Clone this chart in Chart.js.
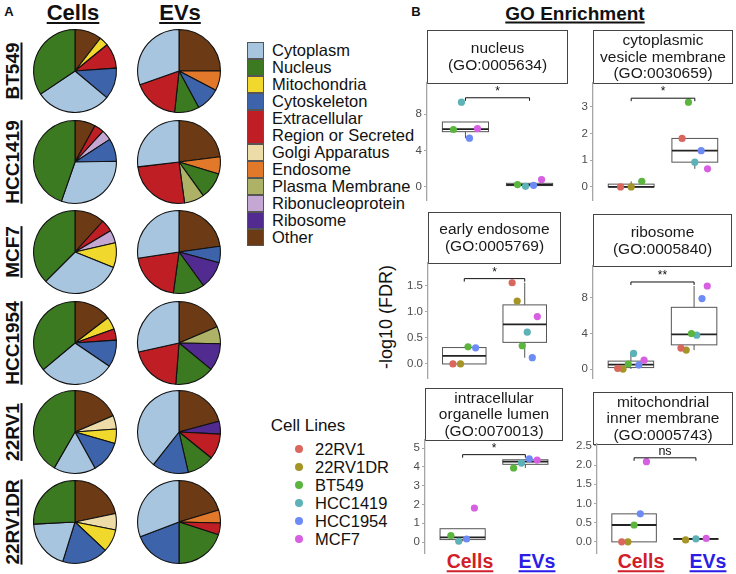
<!DOCTYPE html>
<html>
<head>
<meta charset="utf-8">
<script src="https://cdn.jsdelivr.net/npm/chart.js@4.4.0/dist/chart.umd.min.js"></script>
<style>
  body { margin: 0; background: #fff; font-family: "Liberation Sans", Arial, sans-serif; color: #111; }
  #wrap { position: relative; width: 736px; height: 574px; overflow: hidden; }
  canvas { position: absolute; }
  .txt { position: absolute; white-space: nowrap; transform: translate(-50%, -50%); line-height: 1; }
  .hd { font-weight: bold; text-decoration: underline; text-decoration-thickness: 2px; text-underline-offset: 2px; }
  .rowlab { position: absolute; white-space: nowrap; font-weight: bold; font-size: 19px; line-height: 1;
            text-decoration: underline; text-decoration-thickness: 2px; text-underline-offset: 2px;
            transform: translate(-50%, -50%) rotate(-90deg); }
  #legend { position: absolute; left: 247px; top: 42px; font-size: 16.5px; line-height: 17px; }
  .item { position: relative; padding-left: 25px; }
  .item .sw { position: absolute; left: 0; top: 0; width: 15px; border: 1px solid #555; box-sizing: content-box; }
  #cellLegend { position: absolute; left: 292px; top: 440px; font-size: 16.5px; line-height: 18px; }
  .cl { position: relative; padding-left: 23px; }
  .cl .dot { position: absolute; left: 3px; top: 5px; width: 8px; height: 8px; border-radius: 50%; }
</style>
</head>
<body>
<div id="wrap">
  <div class="txt" style="left:9px;top:11px;font-weight:bold;font-size:13px;">A</div>
  <div class="txt hd" style="left:73px;top:13px;font-size:22px;">Cells</div>
  <div class="txt hd" style="left:180px;top:13px;font-size:22px;">EVs</div>
  <div class="txt" style="left:416px;top:11px;font-weight:bold;font-size:13px;">B</div>
  <div class="txt hd" style="left:575px;top:13px;font-size:19px;">GO Enrichment</div>
  <div class="rowlab" style="top:317px;font-weight:normal;font-size:18px;text-decoration:none;left:386px;">-log10 (FDR)</div>
  <div class="txt" style="left:308px;top:425px;font-size:17px;">Cell Lines</div>
  <div id="legend"></div>
  <div id="cellLegend"></div>
  <div class="txt hd" style="left:470px;top:562px;font-size:19.5px;color:#d01f2a;">Cells</div>
  <div class="txt hd" style="left:537px;top:562px;font-size:19.5px;color:#2b1de6;">EVs</div>
  <div class="txt hd" style="left:641px;top:562px;font-size:19.5px;color:#d01f2a;">Cells</div>
  <div class="txt hd" style="left:708px;top:562px;font-size:19.5px;color:#2b1de6;">EVs</div>
</div>
<script>
const compartments = ['Cytoplasm', 'Nucleus', 'Mitochondria', 'Cytoskeleton', 'Extracellular Region or Secreted',
  'Golgi Apparatus', 'Endosome', 'Plasma Membrane', 'Ribonucleoprotein', 'Ribosome', 'Other'];
const compartmentColors = ['#a8c5e0', '#3c7a22', '#f0d92c', '#3d64ab', '#be1e24',
  '#eddca8', '#e2782a', '#adb266', '#c4a7d3', '#512b90', '#6c3a15'];

const cellLines = ['22RV1', '22RV1DR', 'BT549', 'HCC1419', 'HCC1954', 'MCF7'];
const cellLineColors = ['#d9675d', '#a59426', '#5bb53f', '#5cb2b7', '#6d8bf5', '#d75fe1'];
const rowNames = ['BT549', 'HCC1419', 'MCF7', 'HCC1954', '22RV1', '22RV1DR'];

// pie slices (% of proteins), clockwise from 12 o'clock
const bt549Cells = [['Other', 10.5], ['Mitochondria', 3.6], ['Extracellular Region or Secreted', 9.8], ['Cytoskeleton', 12.2], ['Cytoplasm', 29.5], ['Nucleus', 34.4]];
const bt549Evs = [['Other', 25], ['Endosome', 7.7], ['Cytoskeleton', 9.4], ['Nucleus', 9.6], ['Extracellular Region or Secreted', 17.9], ['Cytoplasm', 30.4]];
const hcc1419Cells = [['Other', 8], ['Extracellular Region or Secreted', 3.8], ['Ribonucleoprotein', 4], ['Cytoskeleton', 8.9], ['Cytoplasm', 30.6], ['Nucleus', 44.7]];
const hcc1419Evs = [['Other', 23], ['Endosome', 6.7], ['Nucleus', 10.4], ['Plasma Membrane', 7.8], ['Extracellular Region or Secreted', 25.3], ['Cytoplasm', 26.9]];
const mcf7Cells = [['Other', 11.7], ['Extracellular Region or Secreted', 4.7], ['Ribonucleoprotein', 5], ['Mitochondria', 9.7], ['Cytoplasm', 31.4], ['Nucleus', 37.5]];
const mcf7Evs = [['Other', 22.8], ['Cytoskeleton', 6.4], ['Ribosome', 10.8], ['Nucleus', 12.2], ['Extracellular Region or Secreted', 20.4], ['Cytoplasm', 27.4]];
const hcc1954Cells = [['Other', 14.6], ['Mitochondria', 4.9], ['Extracellular Region or Secreted', 4.4], ['Cytoskeleton', 10.6], ['Cytoplasm', 29.4], ['Nucleus', 36.1]];
const hcc1954Evs = [['Other', 18.6], ['Plasma Membrane', 6.7], ['Ribosome', 10.7], ['Nucleus', 15.3], ['Extracellular Region or Secreted', 20.3], ['Cytoplasm', 28.5]];
const rv1Cells = [['Other', 18.6], ['Golgi Apparatus', 5.3], ['Mitochondria', 5.6], ['Cytoskeleton', 12.5], ['Cytoplasm', 16.4], ['Nucleus', 41.7]];
const rv1Evs = [['Other', 20.8], ['Ribosome', 5], ['Extracellular Region or Secreted', 10], ['Nucleus', 10.6], ['Cytoskeleton', 14.2], ['Cytoplasm', 39.4]];
const rv1drCells = [['Other', 21.7], ['Golgi Apparatus', 6.4], ['Mitochondria', 8.9], ['Cytoskeleton', 17.8], ['Cytoplasm', 19.4], ['Nucleus', 25.8]];
const rv1drEvs = [['Other', 20.3], ['Endosome', 5.1], ['Extracellular Region or Secreted', 4.6], ['Nucleus', 20], ['Cytoskeleton', 19.2], ['Cytoplasm', 30.8]];

// GO enrichment, -log10(FDR) per cell line (same order as cellLines), null = not found
const nucleusCells = [null, null, 6.3, 9.3, 5.35, 6.4];
const nucleusEvs = [null, null, 0.26, 0.07, 0.18, 0.81];
const vesicleCells = [0, 0, 0.21, null, null, null];
const vesicleEvs = [1.82, null, 3.18, 0.93, 1.36, 0.68];
const endosomeCells = [0, 0, 0.33, null, 0.31, null];
const endosomeEvs = [1.56, 1.21, 0.35, 0.61, 0.12, 0.91];
const ribosomeCells = [0.07, 0, 0.56, 1.76, 0.45, 1.0];
const ribosomeEvs = [2.36, 2.13, 4.0, 3.81, 7.93, 9.35];
const lumenCells = [null, null, 0.34, 0.04, 0.16, 1.81];
const lumenEvs = [null, null, 3.94, 4.2, 4.43, 4.36];
const mitoCells = [0, 0, 0.44, null, 0.73, 2.09];
const mitoEvs = [null, 0.05, null, 0.08, null, 0.09];

const goTitles = [
  ['nucleus', '(GO:0005634)'],
  ['cytoplasmic', 'vesicle membrane', '(GO:0030659)'],
  ['early endosome', '(GO:0005769)'],
  ['ribosome', '(GO:0005840)'],
  ['intracellular', 'organelle lumen', '(GO:0070013)'],
  ['mitochondrial', 'inner membrane', '(GO:0005743)']
];
const goTicks = [[0, 4, 8], [0, 1, 2, 3], [0, 0.5, 1, 1.5], [0, 4, 8], [0, 1, 2, 3, 4, 5], [0, 0.5, 1, 1.5, 2, 2.5]];
const sigLevels = [9.78, 3.33, 1.64, 9.8, 4.65, 2.19];
const sigLabels = ['*', '*', '*', '**', '*', 'ns'];

const wrap = document.getElementById('wrap');

// ---- legend for compartments
const legend = document.getElementById('legend');
compartments.forEach((c, i) => {
  const lines = c.startsWith('Extracellular') ? 2 : 1;
  const it = document.createElement('div');
  it.className = 'item';
  it.innerHTML = c.replace('Extracellular ', 'Extracellular<br>');
  const sw = document.createElement('div');
  sw.className = 'sw';
  sw.style.height = (17 * lines - 2) + 'px';
  sw.style.background = compartmentColors[i];
  it.appendChild(sw);
  legend.appendChild(it);
});

const cellLegend = document.getElementById('cellLegend');
cellLines.forEach((c, i) => {
  const it = document.createElement('div');
  it.className = 'cl';
  it.textContent = c;
  const d = document.createElement('div');
  d.className = 'dot';
  d.style.background = cellLineColors[i];
  it.appendChild(d);
  cellLegend.appendChild(it);
});

// ---- pies
const pieRows = [[bt549Cells, bt549Evs], [hcc1419Cells, hcc1419Evs], [mcf7Cells, mcf7Evs],
  [hcc1954Cells, hcc1954Evs], [rv1Cells, rv1Evs], [rv1drCells, rv1drEvs]];
const pieX = [75, 179];
const pieY = [71, 162, 252, 343, 432, 522];

function makeCanvas(left, top, w, h) {
  const cv = document.createElement('canvas');
  cv.width = w; cv.height = h;
  cv.style.left = left + 'px';
  cv.style.top = top + 'px';
  wrap.appendChild(cv);
  return cv;
}

pieRows.forEach((pair, r) => {
  const lab = document.createElement('div');
  lab.className = 'rowlab';
  lab.style.left = '12px';
  lab.style.top = pieY[r] + 'px';
  lab.textContent = rowNames[r];
  wrap.appendChild(lab);
  pair.forEach((slices, c) => {
    const cv = makeCanvas(pieX[c] - 44, pieY[r] - 44, 88, 88);
    new Chart(cv, {
      type: 'pie',
      data: {
        labels: slices.map(s => s[0]),
        datasets: [{
          data: slices.map(s => s[1]),
          backgroundColor: slices.map(s => compartmentColors[compartments.indexOf(s[0])]),
          borderColor: '#111',
          borderWidth: 1.1
        }]
      },
      options: {
        responsive: false, animation: false, devicePixelRatio: 1,
        layout: { padding: 2 },
        plugins: { legend: { display: false }, tooltip: { enabled: false } }
      }
    });
  });
});

// ---- GO enrichment panels
const goCells = [nucleusCells, vesicleCells, endosomeCells, ribosomeCells, lumenCells, mitoCells];
const goEvs = [nucleusEvs, vesicleEvs, endosomeEvs, ribosomeEvs, lumenEvs, mitoEvs];
const panelLayout = [
  { left: 427, right: 568, strip: 30, top: 83, bottom: 200, yMin: -1.43, yMax: 11.4, dec: 0 },
  { left: 593, right: 733, strip: 30, top: 83, bottom: 200, yMin: -0.49, yMax: 3.9, dec: 0 },
  { left: 428, right: 561, strip: 212, top: 263, bottom: 378, yMin: -0.27, yMax: 1.94, dec: 1 },
  { left: 593, right: 732, strip: 214, top: 266, bottom: 378, yMin: -1.01, yMax: 11.6, dec: 0 },
  { left: 425, right: 563, strip: 388, top: 440, bottom: 553, yMin: -0.585, yMax: 5.43, dec: 0 },
  { left: 597, right: 733, strip: 392, top: 444, bottom: 553, yMin: -0.29, yMax: 2.55, dec: 1, stripLeft: 593 }
];

function quantile(s, p) {
  const h = (s.length - 1) * p;
  const lo = Math.floor(h);
  const hi = Math.min(lo + 1, s.length - 1);
  return s[lo] + (h - lo) * (s[hi] - s[lo]);
}

function boxStats(vals) {
  const s = vals.filter(v => v !== null).sort((a, b) => a - b);
  const q1 = quantile(s, 0.25), med = quantile(s, 0.5), q3 = quantile(s, 0.75);
  const iqr = q3 - q1;
  const inside = s.filter(v => v >= q1 - 1.5 * iqr && v <= q3 + 1.5 * iqr);
  return { lo: inside[0], q1, med, q3, hi: inside[inside.length - 1] };
}

// dodge points of one group side by side
function dodge(vals, g) {
  const present = vals.map((v, i) => v === null ? -1 : i).filter(i => i >= 0);
  const n = present.length;
  const pos = {};
  present.forEach((idx, k) => { pos[idx] = g + (k - (n - 1) / 2) * 0.5 / n; });
  return pos;
}

const boxPlugin = {
  id: 'boxes',
  beforeDatasetsDraw(chart, args, opts) {
    const { ctx, scales: { x, y } } = chart;
    opts.groups.forEach((vals, g) => {
      const b = boxStats(vals);
      const xl = x.getPixelForValue(g - 0.36), xr = x.getPixelForValue(g + 0.36), xc = x.getPixelForValue(g);
      ctx.save();
      ctx.strokeStyle = '#555';
      ctx.lineWidth = 1;
      ctx.beginPath();
      ctx.moveTo(xc, y.getPixelForValue(b.lo)); ctx.lineTo(xc, y.getPixelForValue(b.q1));
      ctx.moveTo(xc, y.getPixelForValue(b.q3)); ctx.lineTo(xc, y.getPixelForValue(b.hi));
      ctx.stroke();
      const top = y.getPixelForValue(b.q3), bot = y.getPixelForValue(b.q1);
      ctx.fillStyle = '#fff';
      ctx.fillRect(xl, top, xr - xl, bot - top);
      ctx.strokeRect(xl, top, xr - xl, bot - top);
      ctx.strokeStyle = '#222';
      ctx.lineWidth = 1.8;
      ctx.beginPath();
      ctx.moveTo(xl, y.getPixelForValue(b.med)); ctx.lineTo(xr, y.getPixelForValue(b.med));
      ctx.stroke();
      ctx.restore();
    });
  },
  afterDatasetsDraw(chart, args, opts) {
    const { ctx, scales: { x, y } } = chart;
    const yy = y.getPixelForValue(opts.sig);
    const x0 = x.getPixelForValue(0), x1 = x.getPixelForValue(1);
    ctx.save();
    ctx.strokeStyle = '#111';
    ctx.lineWidth = 1;
    ctx.beginPath();
    ctx.moveTo(x0, yy + 3); ctx.lineTo(x0, yy); ctx.lineTo(x1, yy); ctx.lineTo(x1, yy + 3);
    ctx.stroke();
    ctx.fillStyle = '#111';
    ctx.textAlign = 'center';
    ctx.textBaseline = 'alphabetic';
    ctx.font = (opts.label === 'ns' ? '12.5px' : '12px') + ' "Liberation Sans", Arial, sans-serif';
    ctx.fillText(opts.label, (x0 + x1) / 2, yy - 3);
    ctx.restore();
  }
};

const stripPlugin = {
  id: 'strip',
  beforeDraw(chart, args, opts) {
    const { ctx, chartArea } = chart;
    const l = opts.left !== undefined ? opts.left : chartArea.left;
    const t = opts.top, b = chartArea.top;
    ctx.save();
    ctx.fillStyle = '#fff';
    ctx.fillRect(l, t, chartArea.right - l, b - t);
    ctx.strokeStyle = '#444';
    ctx.lineWidth = 1;
    ctx.strokeRect(l + 0.5, t + 0.5, chartArea.right - l - 1, b - t);
    ctx.fillStyle = '#1a1a1a';
    ctx.font = '15.5px "Liberation Sans", Arial, sans-serif';
    ctx.textAlign = 'center';
    ctx.textBaseline = 'middle';
    const lh = 16.6;
    const mid = (t + b) / 2 + 1;
    opts.lines.forEach((ln, i) => {
      ctx.fillText(ln, (l + chartArea.right) / 2, mid + (i - (opts.lines.length - 1) / 2) * lh);
    });
    ctx.restore();
  }
};

panelLayout.forEach((L, p) => {
  const axisW = 40;
  const cTop = L.strip - 2;
  const cLeft = L.left - axisW;
  const cv = makeCanvas(cLeft, cTop, L.right - L.left + axisW + 4, L.bottom - cTop + 14);
  const cellPos = dodge(goCells[p], 0), evPos = dodge(goEvs[p], 1);
  const datasets = cellLines.map((name, i) => {
    const pts = [];
    if (goCells[p][i] !== null) pts.push({ x: cellPos[i], y: goCells[p][i] });
    if (goEvs[p][i] !== null) pts.push({ x: evPos[i], y: goEvs[p][i] });
    return { label: name, data: pts, backgroundColor: cellLineColors[i], borderWidth: 0, pointRadius: 3.6 };
  });
  const ticks = goTicks[p];
  new Chart(cv, {
    type: 'scatter',
    data: { datasets },
    options: {
      responsive: false, animation: false, devicePixelRatio: 1,
      layout: { padding: { top: L.top - cTop, bottom: 14, left: 0, right: 4 } },
      scales: {
        x: { type: 'linear', min: -0.6, max: 1.6, display: false },
        y: {
          min: L.yMin, max: L.yMax,
          afterBuildTicks: s => { s.ticks = ticks.map(v => ({ value: v })); },
          afterFit: s => { s.width = axisW; },
          border: { display: true, color: '#a6a6a6', width: 1.3 },
          grid: { drawOnChartArea: false, drawTicks: true, tickLength: 3, color: '#a6a6a6' },
          ticks: {
            padding: 2, color: '#4d4d4d',
            font: { size: 11.5, family: '"Liberation Sans", Arial, sans-serif' },
            callback: v => v.toFixed(L.dec)
          }
        }
      },
      plugins: {
        legend: { display: false }, tooltip: { enabled: false },
        boxes: { groups: [goCells[p], goEvs[p]], sig: sigLevels[p], label: sigLabels[p] },
        strip: { lines: goTitles[p], top: 2, left: L.stripLeft !== undefined ? L.stripLeft - cLeft : undefined }
      }
    },
    plugins: [boxPlugin, stripPlugin]
  });
});
</script>
</body>
</html>
